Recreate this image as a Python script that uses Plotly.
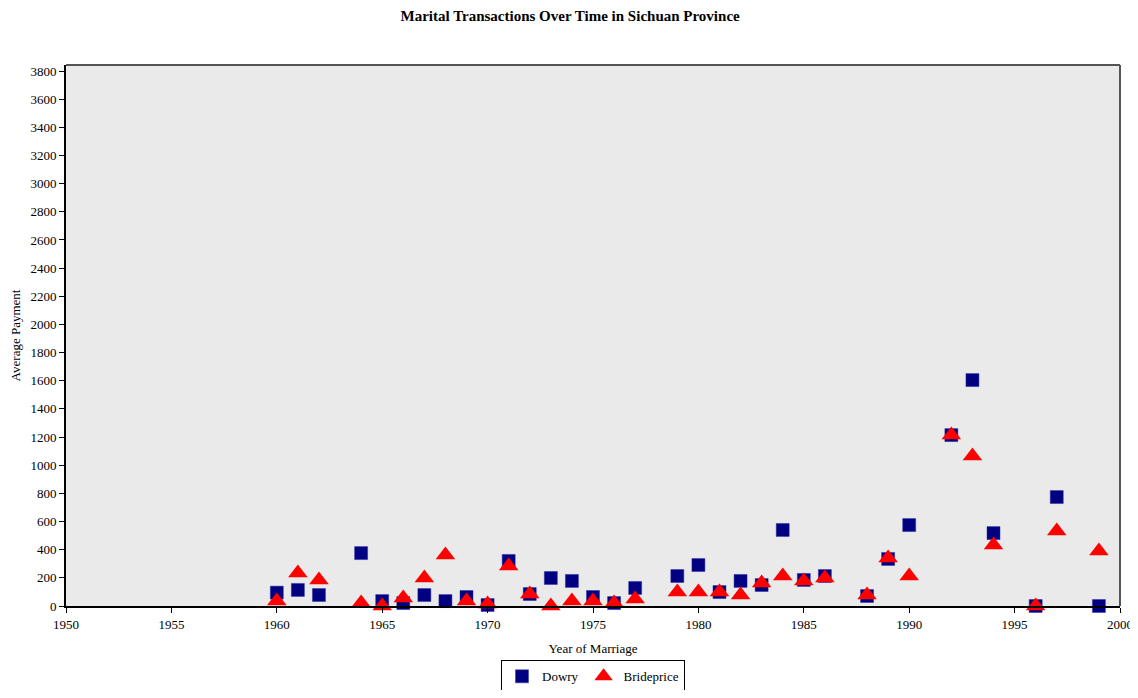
import plotly.graph_objects as go

years_dowry = [1960, 1961, 1962, 1964, 1965, 1966, 1967, 1968, 1969, 1970, 1971, 1972, 1973, 1974,
               1975, 1976, 1977, 1979, 1980, 1981, 1982, 1983, 1984, 1985, 1986, 1988, 1989, 1990,
               1992, 1993, 1994, 1996, 1997, 1999]
dowry = [95, 114, 78, 376, 35, 21, 78, 35, 64, 7, 320, 85, 199, 178,
         64, 21, 128, 213, 291, 99, 178, 149, 540, 185, 213, 71, 334, 575,
         1214, 1605, 518, 0, 774, 0]

years_bride = [1960, 1961, 1962, 1964, 1965, 1966, 1967, 1968, 1969, 1970, 1971, 1972, 1973, 1974,
               1975, 1976, 1977, 1979, 1980, 1981, 1982, 1983, 1984, 1985, 1986, 1988, 1989, 1990,
               1992, 1993, 1994, 1996, 1997, 1999]
brideprice = [35, 234, 185, 21, 0, 57, 199, 362, 35, 14, 284, 85, 0, 35,
              35, 21, 50, 99, 99, 99, 78, 163, 213, 178, 199, 78, 341, 213,
              1214, 1065, 433, 0, 533, 390]

y_ticks = list(range(0, 3801, 200))
x_ticks = list(range(1950, 2001, 5))

font_family = "Liberation Serif, Times New Roman, serif"

fig = go.Figure()
fig.add_trace(go.Scatter(
    x=years_dowry, y=dowry, mode="markers", name="Dowry",
    marker=dict(symbol="square", size=13, color="#000080",
                line=dict(width=0.5, color="#3333aa")),
    cliponaxis=False,
))
fig.add_trace(go.Scatter(
    x=years_bride, y=brideprice, mode="markers", name="Brideprice",
    marker=dict(symbol="triangle-up", size=17, color="#FF0000",
                line=dict(width=0)),
    cliponaxis=False,
))

# the page body adds an 8px margin on every side; the figure is sized so the
# page never overflows the 1138x698 window (no scrollbars)
fig.update_layout(
    width=1122, height=682,
    margin=dict(l=58, r=10, t=57, b=84),
    paper_bgcolor="white",
    plot_bgcolor="#EAEAEA",
    font=dict(family=font_family, size=13, color="black"),
    title=dict(text="<b>Marital Transactions Over Time in Sichuan Province</b>",
               x=0.501, xanchor="center", xref="container",
               yref="container", y=0.988, yanchor="middle",
               font=dict(size=15, family=font_family)),
    showlegend=True,
    legend=dict(orientation="h", x=0.5, xanchor="center",
                yref="container", y=0.02, yanchor="middle",
                bordercolor="black", borderwidth=1, bgcolor="white",
                font=dict(size=13, family=font_family),
                itemwidth=30, tracegroupgap=0),
    xaxis=dict(range=[1950, 2000], tickvals=x_ticks, showgrid=False, zeroline=False,
               showline=True, linecolor="black", linewidth=2, ticks="outside",
               ticklen=5, tickcolor="black", mirror=False, automargin=False,
               ticklabeloverflow="allow",
               title=dict(text="Year of Marriage", standoff=13, font=dict(size=13)),
               tickfont=dict(size=13)),
    yaxis=dict(range=[0, 3843], tickvals=y_ticks, showgrid=False, zeroline=False,
               showline=True, linecolor="black", linewidth=2, ticks="outside",
               ticklen=5, tickcolor="black", automargin=False,
               ticklabeloverflow="allow",
               title=dict(text="Average Payment", standoff=7, font=dict(size=13)),
               tickfont=dict(size=13)),
    shapes=[
        dict(type="line", xref="paper", yref="paper", x0=0, x1=1, y0=1, y1=1,
             line=dict(color="#555555", width=2)),
        dict(type="line", xref="paper", yref="paper", x0=1, x1=1, y0=0, y1=1,
             line=dict(color="#555555", width=2)),
    ],
)

fig.write_html("out.html")
